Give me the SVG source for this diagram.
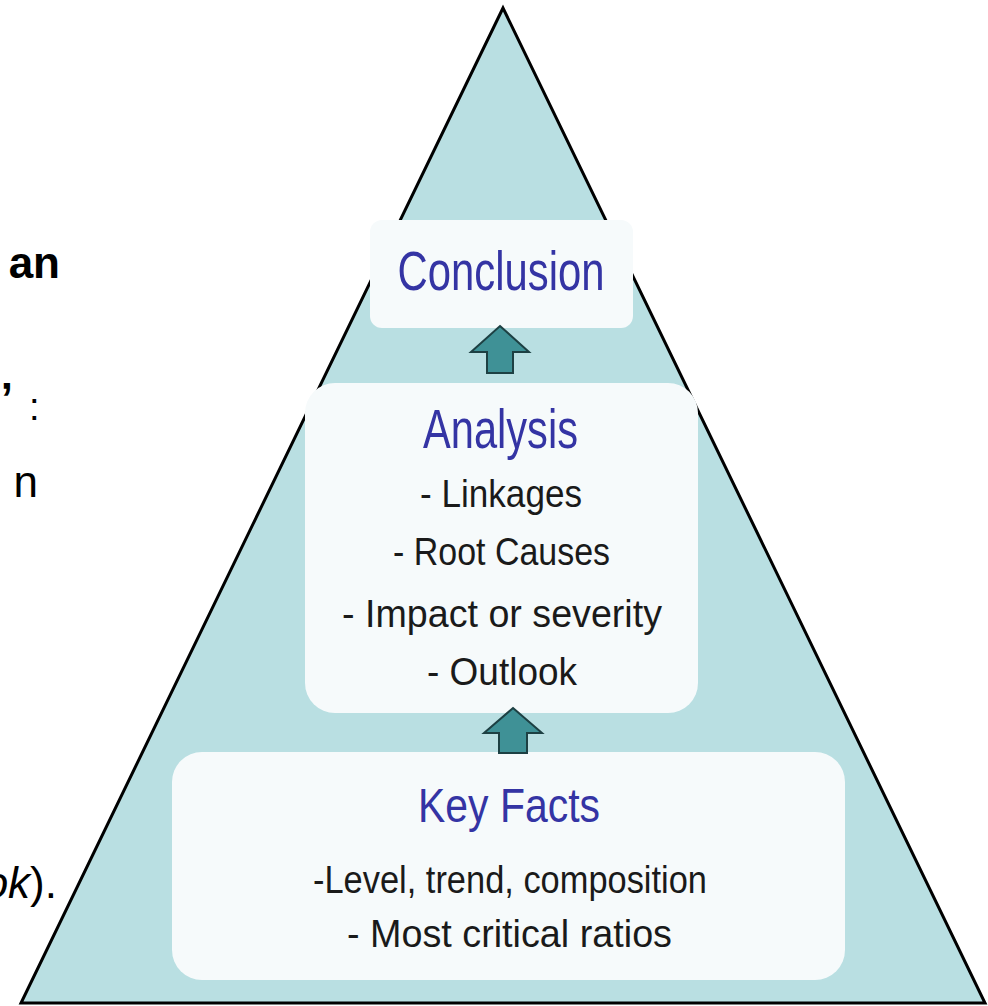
<svg xmlns="http://www.w3.org/2000/svg" width="988" height="1006" viewBox="0 0 988 1006">
<style>
.box{fill:#f6fafb;}
.title{font-family:"Liberation Sans",Arial,sans-serif;fill:#3434a4;text-anchor:middle;}
.item{font-family:"Liberation Sans",Arial,sans-serif;fill:#1a1a1a;text-anchor:middle;font-size:38px;}
.side{font-family:"Liberation Sans",Arial,sans-serif;fill:#000;font-size:44px;}
.arrow{fill:#3f9196;stroke:#1d4043;stroke-width:2;stroke-linejoin:miter;}
</style>
<rect x="0" y="0" width="988" height="1006" fill="#ffffff"/>
<g id="side-text">
<text class="side" x="60" y="278" text-anchor="end" font-weight="bold">an</text>
<text class="side" x="13" y="414" text-anchor="end" font-weight="bold">’</text>
<text x="29" y="420" font-family="Liberation Sans,Arial,sans-serif" font-size="38" fill="#000">:</text>
<text class="side" x="38" y="497" text-anchor="end">n</text>
<text class="side" x="57" y="898" text-anchor="end"><tspan font-style="italic">ok</tspan>).</text>
</g>
<g id="pyramid">
<polygon points="503,8 21,1003 985,1003" fill="#b9dfe2" stroke="#000" stroke-width="3" stroke-linejoin="miter"/>
</g>
<g id="conclusion">
<rect class="box" x="370" y="220" width="263" height="108" rx="12"/>
<text class="title" x="501" y="290" font-size="56" textLength="207" lengthAdjust="spacingAndGlyphs">Conclusion</text>
</g>
<g id="analysis">
<rect class="box" x="305" y="383" width="393" height="330" rx="30"/>
<text class="title" x="500.5" y="448" font-size="56" textLength="155" lengthAdjust="spacingAndGlyphs">Analysis</text>
<text class="item" x="501" y="507" textLength="162" lengthAdjust="spacingAndGlyphs">- Linkages</text>
<text class="item" x="501.5" y="565" textLength="217" lengthAdjust="spacingAndGlyphs">- Root Causes</text>
<text class="item" x="502" y="627" textLength="320" lengthAdjust="spacingAndGlyphs">- Impact or severity</text>
<text class="item" x="502" y="685" textLength="150" lengthAdjust="spacingAndGlyphs">- Outlook</text>
</g>
<g id="key-facts">
<rect class="box" x="172" y="752" width="673" height="228" rx="30"/>
<text class="title" x="509" y="822" font-size="49" textLength="182" lengthAdjust="spacingAndGlyphs">Key Facts</text>
<text class="item" x="510" y="893" textLength="394" lengthAdjust="spacingAndGlyphs">-Level, trend, composition</text>
<text class="item" x="509.5" y="947" textLength="325" lengthAdjust="spacingAndGlyphs">- Most critical ratios</text>
</g>
<g id="connectors">
<polygon class="arrow" points="500,326 529,352 513,352 513,373 487,373 487,352 471,352"/>
<polygon class="arrow" points="513,708 542,733 527,733 527,753 499,753 499,733 484,733"/>
</g>
</svg>
